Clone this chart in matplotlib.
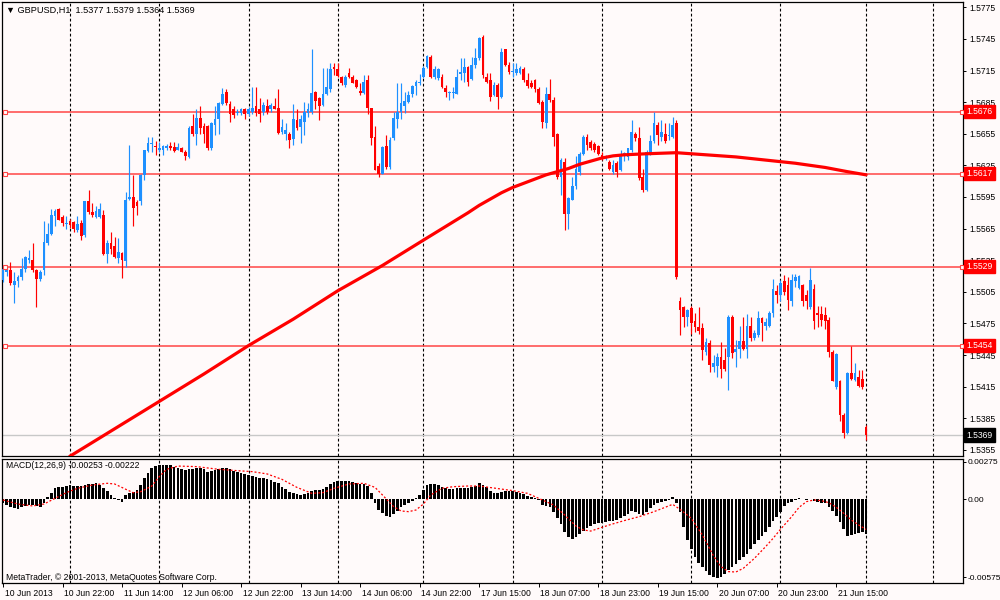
import matplotlib
matplotlib.use("Agg")
import matplotlib.pyplot as plt
import matplotlib.transforms as mtransforms
import numpy as np

# ---------------- data (prices in 1e-4 units: 15516 -> 1.5516) ----------------
title_text = "\u25bc GBPUSD,H1  1.5377 1.5379 1.5364 1.5369"
macd_text = "MACD(12,26,9) -0.00253 -0.00222"
copyright_text = "MetaTrader, \u00a9 2001-2013, MetaQuotes Software Corp."

open_pts = [
    15516, 15524, 15526, 15511, 15515, 15519, 15527, 15535, 15535, 15526,
    15517, 15526, 15551, 15560, 15577, 15584, 15576, 15569, 15572, 15571,
    15564, 15570, 15559, 15591, 15581, 15576, 15576, 15578, 15541, 15551,
    15548, 15537, 15542, 15534, 15593, 15595, 15590, 15591, 15616, 15639,
    15645, 15643, 15640, 15640, 15641, 15643, 15642, 15640, 15641, 15638,
    15633, 15662, 15655, 15670, 15662, 15662, 15641, 15663, 15669, 15683,
    15695, 15683, 15678, 15675, 15675, 15678, 15674, 15676, 15681, 15678,
    15676, 15681, 15678, 15681, 15679, 15657, 15655, 15655, 15650, 15668,
    15661, 15666, 15675, 15676, 15695, 15689, 15682, 15693, 15697, 15718,
    15716, 15709, 15701, 15713, 15709, 15706, 15696, 15694, 15706, 15679,
    15652, 15624, 15617, 15643, 15623, 15651, 15669, 15676, 15681, 15685,
    15693, 15700, 15703, 15709, 15718, 15728, 15709, 15708, 15709, 15698,
    15694, 15694, 15693, 15712, 15713, 15718, 15707, 15720, 15727, 15747,
    15709, 15706, 15692, 15701, 15690, 15735, 15720, 15714, 15713, 15713,
    15716, 15706, 15703, 15706, 15697, 15685, 15665, 15693, 15687, 15655,
    15614, 15628, 15579, 15592, 15605, 15619, 15636, 15652, 15647, 15645,
    15643, 15635, 15632, 15628, 15619, 15627, 15621, 15636, 15633, 15640,
    15655, 15651, 15614, 15602, 15637, 15648, 15663, 15652, 15655, 15653,
    15652, 15665, 15496, 15491, 15481, 15490, 15477, 15472, 15471, 15448,
    15456, 15434, 15435, 15443, 15440, 15443, 15481, 15448, 15451, 15458,
    15451, 15473, 15461, 15464, 15480, 15473, 15473, 15485, 15506, 15502,
    15515, 15511, 15496, 15515, 15509, 15511, 15502, 15491, 15508, 15485,
    15484, 15483, 15478, 15448, 15415, 15420, 15388, 15371, 15428, 15421,
    15424, 15422, 15377]

high_pts = [
    15530, 15529, 15533, 15524, 15521, 15537, 15539, 15545, 15551, 15527,
    15526, 15572, 15570, 15584, 15584, 15585, 15578, 15577, 15574, 15572,
    15577, 15573, 15591, 15602, 15589, 15586, 15589, 15583, 15554, 15562,
    15557, 15556, 15543, 15600, 15644, 15616, 15592, 15617, 15640, 15652,
    15652, 15648, 15647, 15644, 15645, 15647, 15647, 15646, 15642, 15640,
    15662, 15674, 15678, 15681, 15665, 15663, 15666, 15681, 15685, 15698,
    15697, 15686, 15681, 15678, 15679, 15679, 15680, 15699, 15699, 15689,
    15685, 15688, 15684, 15689, 15697, 15669, 15665, 15657, 15683, 15678,
    15673, 15685, 15684, 15735, 15696, 15690, 15717, 15717, 15722, 15722,
    15722, 15710, 15711, 15717, 15711, 15707, 15703, 15711, 15711, 15679,
    15662, 15627, 15643, 15654, 15652, 15676, 15703, 15703, 15695, 15696,
    15701, 15706, 15712, 15719, 15730, 15730, 15719, 15717, 15712, 15701,
    15696, 15699, 15716, 15727, 15727, 15719, 15728, 15736, 15747, 15749,
    15713, 15713, 15704, 15703, 15736, 15735, 15723, 15722, 15722, 15719,
    15718, 15713, 15706, 15707, 15699, 15687, 15699, 15707, 15690, 15656,
    15632, 15632, 15595, 15614, 15634, 15638, 15654, 15655, 15649, 15647,
    15644, 15638, 15635, 15630, 15630, 15629, 15640, 15638, 15641, 15668,
    15657, 15661, 15622, 15640, 15654, 15676, 15666, 15668, 15665, 15665,
    15671, 15668, 15500, 15492, 15489, 15492, 15485, 15491, 15475, 15461,
    15459, 15445, 15447, 15457, 15452, 15483, 15483, 15459, 15473, 15481,
    15484, 15481, 15469, 15487, 15481, 15480, 15487, 15517, 15511, 15516,
    15521, 15519, 15522, 15522, 15521, 15512, 15507, 15528, 15512, 15492,
    15492, 15491, 15481, 15450, 15447, 15421, 15390, 15429, 15454, 15437,
    15431, 15431, 15379]

low_pts = [
    15514, 15520, 15511, 15494, 15510, 15516, 15524, 15532, 15524, 15491,
    15515, 15521, 15549, 15559, 15567, 15573, 15567, 15565, 15566, 15562,
    15562, 15554, 15557, 15579, 15576, 15575, 15575, 15540, 15532, 15541,
    15537, 15532, 15518, 15529, 15592, 15567, 15578, 15587, 15611, 15638,
    15638, 15635, 15638, 15635, 15640, 15640, 15638, 15640, 15638, 15630,
    15632, 15653, 15644, 15655, 15646, 15640, 15640, 15654, 15655, 15682,
    15682, 15666, 15670, 15673, 15673, 15669, 15672, 15674, 15672, 15666,
    15673, 15674, 15676, 15678, 15655, 15655, 15649, 15641, 15644, 15659,
    15646, 15654, 15671, 15674, 15678, 15668, 15681, 15692, 15695, 15711,
    15709, 15701, 15699, 15708, 15703, 15698, 15692, 15693, 15674, 15644,
    15621, 15614, 15617, 15622, 15622, 15649, 15660, 15669, 15675, 15684,
    15690, 15692, 15701, 15708, 15717, 15708, 15707, 15706, 15698, 15690,
    15687, 15689, 15693, 15706, 15704, 15700, 15706, 15717, 15725, 15708,
    15703, 15686, 15691, 15678, 15689, 15719, 15712, 15709, 15711, 15712,
    15704, 15698, 15698, 15695, 15683, 15660, 15660, 15685, 15643, 15612,
    15597, 15564, 15565, 15592, 15603, 15616, 15635, 15640, 15640, 15638,
    15635, 15630, 15630, 15621, 15617, 15614, 15620, 15629, 15630, 15638,
    15648, 15611, 15600, 15601, 15635, 15646, 15644, 15648, 15646, 15649,
    15651, 15517, 15464, 15472, 15473, 15465, 15467, 15465, 15440, 15445,
    15429, 15429, 15424, 15423, 15430, 15412, 15442, 15434, 15442, 15450,
    15442, 15458, 15459, 15462, 15458, 15469, 15472, 15481, 15494, 15496,
    15502, 15488, 15492, 15510, 15508, 15492, 15489, 15489, 15470, 15472,
    15473, 15470, 15443, 15420, 15413, 15382, 15366, 15370, 15421, 15420,
    15415, 15413, 15364]

close_pts = [
    15527, 15527, 15513, 15515, 15519, 15527, 15538, 15537, 15526, 15517,
    15524, 15552, 15560, 15578, 15582, 15573, 15570, 15570, 15568, 15565,
    15569, 15558, 15591, 15581, 15578, 15582, 15584, 15541, 15551, 15546,
    15538, 15543, 15535, 15592, 15595, 15585, 15586, 15616, 15640, 15646,
    15646, 15642, 15641, 15643, 15643, 15641, 15639, 15642, 15638, 15634,
    15660, 15655, 15670, 15660, 15655, 15641, 15665, 15669, 15684, 15693,
    15684, 15674, 15673, 15676, 15678, 15674, 15678, 15679, 15675, 15674,
    15682, 15676, 15682, 15678, 15656, 15661, 15659, 15649, 15669, 15660,
    15669, 15676, 15678, 15694, 15686, 15681, 15693, 15699, 15716, 15716,
    15710, 15703, 15709, 15709, 15703, 15699, 15694, 15704, 15679, 15651,
    15621, 15617, 15642, 15623, 15649, 15670, 15676, 15684, 15686, 15692,
    15700, 15704, 15704, 15717, 15729, 15709, 15716, 15716, 15699, 15695,
    15695, 15695, 15709, 15714, 15718, 15704, 15720, 15727, 15746, 15711,
    15704, 15690, 15701, 15690, 15733, 15720, 15714, 15715, 15716, 15717,
    15706, 15700, 15699, 15697, 15684, 15666, 15693, 15687, 15652, 15614,
    15630, 15579, 15594, 15605, 15622, 15636, 15652, 15644, 15641, 15640,
    15636, 15632, 15633, 15622, 15625, 15619, 15635, 15637, 15641, 15657,
    15651, 15613, 15602, 15638, 15648, 15665, 15654, 15657, 15648, 15654,
    15663, 15519, 15488, 15481, 15488, 15475, 15472, 15468, 15450, 15457,
    15436, 15437, 15443, 15432, 15432, 15481, 15447, 15451, 15458, 15451,
    15473, 15461, 15466, 15480, 15475, 15476, 15485, 15508, 15502, 15513,
    15505, 15497, 15516, 15519, 15520, 15496, 15496, 15516, 15477, 15483,
    15478, 15477, 15448, 15420, 15446, 15388, 15371, 15428, 15422, 15428,
    15416, 15415, 15369]

# moving average (thick red line), bar index -> value (1e-4 units)
ma_idx = [17, 18, 30, 42, 54, 66, 78, 90, 102, 113, 125, 128, 131, 134, 137,
          140, 143, 146, 149, 152, 155, 158, 161, 164, 167, 173, 181, 189,
          197, 205, 213, 221, 227, 232]
ma_pts = [15345, 15349, 15375, 15401, 15427, 15454, 15479, 15506, 15530, 15554,
          15580, 15587, 15593, 15599, 15604, 15608, 15612, 15616, 15619, 15622,
          15626, 15629, 15632, 15634, 15635, 15636, 15637, 15635, 15633, 15630,
          15627, 15623, 15619, 15616]

# horizontal levels
level_values = [1.5676, 1.5617, 1.5529, 1.5454]
bid_value = 1.5369

price_ticks = [1.5775, 1.5745, 1.5715, 1.5685, 1.5655, 1.5625, 1.5595, 1.5565,
               1.5535, 1.5505, 1.5475, 1.5445, 1.5415, 1.5385, 1.5355]

# MACD histogram (1e-5 units)
macd_hist_e5 = [
    -30, -42, -54, -66, -74, -59, -49, -42, -42, -49,
    -54, -30, 20, 44, 81, 88, 93, 98, 105, 98,
    98, 98, 108, 113, 115, 118, 108, 81, 64, 32,
    7, -5, -17, 32, 44, 56, 69, 105, 155, 196,
    228, 245, 250, 253, 250, 253, 236, 228, 221, 216,
    226, 223, 228, 228, 221, 204, 211, 216, 221, 228,
    228, 221, 211, 204, 191, 186, 182, 174, 167, 160,
    155, 147, 142, 130, 118, 93, 74, 56, 44, 37,
    32, 37, 49, 64, 69, 69, 74, 88, 113, 130,
    135, 135, 135, 135, 130, 123, 113, 113, 98, 44,
    -25, -79, -103, -123, -128, -108, -84, -59, -42, -25,
    -10, 7, 32, 69, 105, 113, 113, 105, 93, 81,
    74, 74, 81, 81, 86, 81, 93, 98, 118, 105,
    88, 64, 44, 49, 56, 64, 64, 59, 54, 49,
    39, 24, 15, 7, -5, -42, -49, -59, -91, -140,
    -182, -238, -280, -295, -280, -256, -231, -214, -197, -182,
    -177, -172, -165, -157, -157, -152, -140, -123, -108, -84,
    -91, -108, -116, -91, -66, -42, -25, -17, -10, -2,
    20, -25, -91, -202, -300, -369, -423, -472, -497, -526,
    -558, -575, -578, -575, -550, -521, -497, -477, -447, -428,
    -403, -369, -329, -300, -270, -238, -202, -157, -128, -91,
    -49, -30, -17, -5, 7, -1, -5, -1, -10, -17,
    -25, -30, -59, -84, -123, -165, -221, -270, -263, -256,
    -246, -238, -253]

# MACD signal line (1e-5 units)
signal_idx = [0, 4, 8, 11, 14, 17, 20, 24, 28, 30, 33, 35, 37, 40, 42, 44, 47,
              52, 58, 63, 67, 71, 75, 79, 83, 86, 89, 93, 97, 100, 102, 105,
              107, 109, 111, 113, 115, 118, 121, 125, 128, 137, 141, 145, 148,
              151, 154, 156, 158, 160, 163, 167, 171, 175, 178, 180, 182, 185,
              188, 191, 193, 195, 197, 199, 202, 205, 207, 209, 212, 214, 216,
              218, 220, 222, 224, 226, 228, 230, 232]
signal_e5 = [-5, -35, -49, -35, 7, 49, 81, 105, 118, 113, 74, 49, 56, 98, 167,
             221, 245, 241, 221, 211, 204, 187, 147, 88, 44, 49, 81, 113, 118,
             88, 32, -54, -86, -91, -79, -35, 32, 81, 93, 98, 98, 64, 44, -5,
             -42, -116, -197, -226, -234, -216, -189, -157, -128, -91, -59,
             -37, -74, -140, -263, -418, -496, -533, -536, -509, -435, -349,
             -288, -221, -128, -59, -17, -5, -10, -25, -59, -103, -152, -189,
             -222]

# time axis labels (every 16 bars) and day separators (bar index)
time_labels = ["10 Jun 2013", "10 Jun 22:00", "11 Jun 14:00", "12 Jun 06:00",
               "12 Jun 22:00", "13 Jun 14:00", "14 Jun 06:00", "14 Jun 22:00",
               "17 Jun 15:00", "18 Jun 07:00", "18 Jun 23:00", "19 Jun 15:00",
               "20 Jun 07:00", "20 Jun 23:00", "21 Jun 15:00"]
label_step = 16
grid_idx = [18, 42, 66, 90, 113, 137, 161, 185, 209, 232, 250]

# ---------------- styling ----------------
BG = "#FFFAFA"
BULL = "#1E90FF"
BEAR = "#FF0000"
LEVEL = "#FF4545"
FONT = "Liberation Sans"
FS = 6.2
plt.rcParams["font.family"] = [FONT, "DejaVu Sans"]

n = len(close_pts)
assert len(open_pts) == n and len(high_pts) == n and len(low_pts) == n
assert len(macd_hist_e5) == n
assert len(signal_idx) == len(signal_e5)
assert len(ma_idx) == len(ma_pts)

o = np.array(open_pts) / 1e4
h = np.array(high_pts) / 1e4
l = np.array(low_pts) / 1e4
c = np.array(close_pts) / 1e4
idx = np.arange(n)

fig = plt.figure(figsize=(10, 6), dpi=100, facecolor=BG)
ax = fig.add_axes([0.002, 1 - 456 / 600, 0.961, 454 / 600])
axm = fig.add_axes([0.002, 1 - 583 / 600, 0.961, 124.5 / 600])

xlim = (-0.27, 258.06)
for a in (ax, axm):
    a.set_facecolor(BG)
    a.set_xlim(*xlim)
    for s in a.spines.values():
        s.set_linewidth(0.9)
        s.set_color("black")
    for g in grid_idx:
        a.axvline(g, color="black", lw=0.8, ls=(0, (2.5, 2.0)), zorder=1)

# ---- main price panel ----
ax.set_ylim(1.53492, 1.57800)
for lv in level_values:
    ax.axhline(lv, color=LEVEL, lw=1.1, zorder=1.5)
    ax.plot([0.003, 0.999], [lv, lv], transform=ax.get_yaxis_transform(),
            marker="s", ms=3.3, mfc="white", mec=LEVEL, mew=0.8, ls="none",
            clip_on=False, zorder=7)
ax.axhline(bid_value, color="#C8C8C8", lw=1.0, zorder=1.4)

bull = c >= o
colors = np.where(bull, BULL, BEAR)
ax.vlines(idx, l, h, colors=colors, lw=0.85, zorder=3)
body_bottom = np.minimum(o, c)
body_h = np.maximum(np.abs(c - o), 0.00008)
ax.bar(idx, body_h, bottom=body_bottom, width=0.74, color=colors, lw=0,
       zorder=4)

ax.plot(ma_idx, np.array(ma_pts) / 1e4, color="#FF0000", lw=2.3,
        solid_capstyle="round", solid_joinstyle="round", zorder=6)

ax.yaxis.tick_right()
ax.set_yticks(price_ticks)
ax.set_yticklabels([f"{p:.4f}" for p in price_ticks])
ax.tick_params(axis="y", direction="out", length=2.5, width=0.7, pad=1.8,
               labelsize=FS, colors="black")
ax.set_xticks([])

for lv in level_values:
    ax.annotate(f"{lv:.4f}", xy=(1.0, lv), xycoords=("axes fraction", "data"),
                xytext=(2.6, 0), textcoords="offset points", ha="left",
                va="center", fontsize=FS, color="white",
                bbox=dict(boxstyle="square,pad=0.25", fc="#FF0000", ec="#FF0000"),
                annotation_clip=False, zorder=8)
ax.annotate(f"{bid_value:.4f}", xy=(1.0, bid_value),
            xycoords=("axes fraction", "data"), xytext=(2.6, 0),
            textcoords="offset points", ha="left", va="center", fontsize=FS,
            color="white", bbox=dict(boxstyle="square,pad=0.25", fc="black",
                                     ec="black"),
            annotation_clip=False, zorder=8)

# ---- MACD panel ----
axm.set_ylim(-0.00617, 0.003008)
hist = np.array(macd_hist_e5) * 1e-5
axm.bar(idx, hist, width=0.72, color="black", lw=0, zorder=3)
axm.plot(signal_idx, np.array(signal_e5) * 1e-5, color="#FF0000", lw=0.9,
         ls=(0, (1.6, 1.6)), zorder=4)
axm.yaxis.tick_right()
axm.set_yticks([0.00275, 0.0, -0.00575])
axm.set_yticklabels(["0.00275", "0.00", "-0.00575"])
axm.tick_params(axis="y", direction="out", length=2.0, width=0.7, pad=1.0,
                labelsize=FS - 0.2, colors="black")
tick_pos = [k * label_step for k in range(len(time_labels))]
axm.set_xticks(tick_pos)
axm.set_xticklabels(time_labels)
axm.tick_params(axis="x", direction="out", length=3, width=0.7, pad=1.5,
                labelsize=FS, colors="black")
offset = mtransforms.ScaledTranslation(1.2 / 72, 0, fig.dpi_scale_trans)
for lab in axm.get_xticklabels():
    lab.set_horizontalalignment("left")
    lab.set_transform(lab.get_transform() + offset)

# ---- texts ----
fig.text(0.006, 1 - 10 / 600, title_text, fontsize=FS + 0.4, va="center",
         ha="left", color="black")
fig.text(0.006, 1 - 466 / 600, macd_text, fontsize=FS, va="center", ha="left",
         color="black")
fig.text(0.006, 1 - 577 / 600, copyright_text, fontsize=FS, va="center",
         ha="left", color="black")

fig.savefig("out.png", dpi=100, facecolor=BG)
